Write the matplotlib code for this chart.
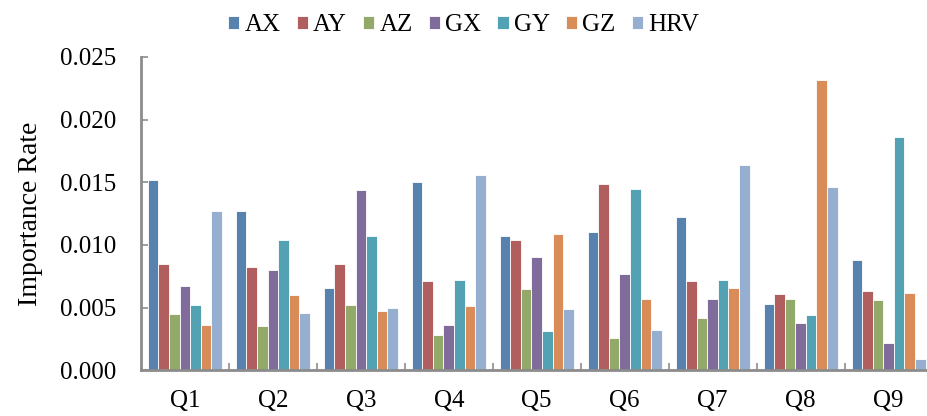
import numpy as np
import matplotlib.pyplot as plt
from matplotlib.ticker import FixedLocator, FuncFormatter

plt.rcParams.update({
    'font.family': ['Liberation Serif', 'DejaVu Serif'],
    'font.size': 18,
})

# data
questions = ['Q1', 'Q2', 'Q3', 'Q4', 'Q5', 'Q6', 'Q7', 'Q8', 'Q9']
series_names = ['AX', 'AY', 'AZ', 'GX', 'GY', 'GZ', 'HRV']
ax_vals = [0.0152, 0.0127, 0.0066, 0.0150, 0.0107, 0.0110, 0.0122, 0.0053, 0.0088]
ay_vals = [0.0085, 0.0082, 0.0085, 0.0071, 0.0104, 0.0149, 0.0071, 0.0061, 0.0063]
az_vals = [0.0045, 0.0035, 0.0052, 0.0028, 0.0065, 0.0026, 0.0042, 0.0057, 0.0056]
gx_vals = [0.0067, 0.0080, 0.0144, 0.0036, 0.0090, 0.0077, 0.0057, 0.0038, 0.0022]
gy_vals = [0.0052, 0.0104, 0.0107, 0.0072, 0.0031, 0.0145, 0.0072, 0.0044, 0.0186]
gz_vals = [0.0036, 0.0060, 0.0047, 0.0051, 0.0109, 0.0057, 0.0066, 0.0232, 0.0062]
hrv_vals = [0.0127, 0.0046, 0.0050, 0.0156, 0.0049, 0.0032, 0.0164, 0.0146, 0.0009]

colors = ['#5882ae', '#b05e5e', '#93a96a', '#7f6c9a', '#52a2b4', '#d98c58', '#96aecf']

all_vals = [ax_vals, ay_vals, az_vals, gx_vals, gy_vals, gz_vals, hrv_vals]

fig = plt.figure(figsize=(9.27, 4.16), dpi=100)
ax = fig.add_axes([0.152, 0.11, 0.854, 0.753])

x = np.arange(len(questions))
width = 0.12
n = len(series_names)
for i, (name, vals, col) in enumerate(zip(series_names, all_vals, colors)):
    offs = (i - (n - 1) / 2) * width
    ax.bar(x + offs, vals, width, color=col, edgecolor='white', linewidth=0.6,
           label=name)

ax.set_xlim(-0.5, len(questions) - 0.5)
ax.set_ylim(0, 0.025)
ax.set_yticks(np.arange(0, 0.0251, 0.005))
ax.yaxis.set_major_formatter(FuncFormatter(lambda v, p: f'{v:.3f}'))
ax.set_xticks(x)
ax.set_xticklabels(questions)
ax.xaxis.set_minor_locator(FixedLocator(np.arange(0.5, len(questions) - 0.5, 1)))
ax.tick_params(axis='x', which='major', length=0, pad=14)
ax.tick_params(axis='x', which='minor', direction='in', length=5, color='#8c8c8c', width=1.2)
ax.tick_params(axis='y', direction='in', length=5, color='#8c8c8c', width=1.2, pad=18)

for side in ['top', 'right']:
    ax.spines[side].set_visible(False)
for side in ['left', 'bottom']:
    ax.spines[side].set_color('#8c8c8c')
    ax.spines[side].set_linewidth(2)

ax.set_ylabel('Importance Rate', fontsize=20, labelpad=12)

fig.legend(loc='upper center', bbox_to_anchor=(0.5, 1.02), ncol=7, frameon=False,
           handlelength=0.45, handleheight=0.45, handletextpad=0.2, columnspacing=0.65,
           fontsize=18)

fig.savefig('out.png', dpi=100)
